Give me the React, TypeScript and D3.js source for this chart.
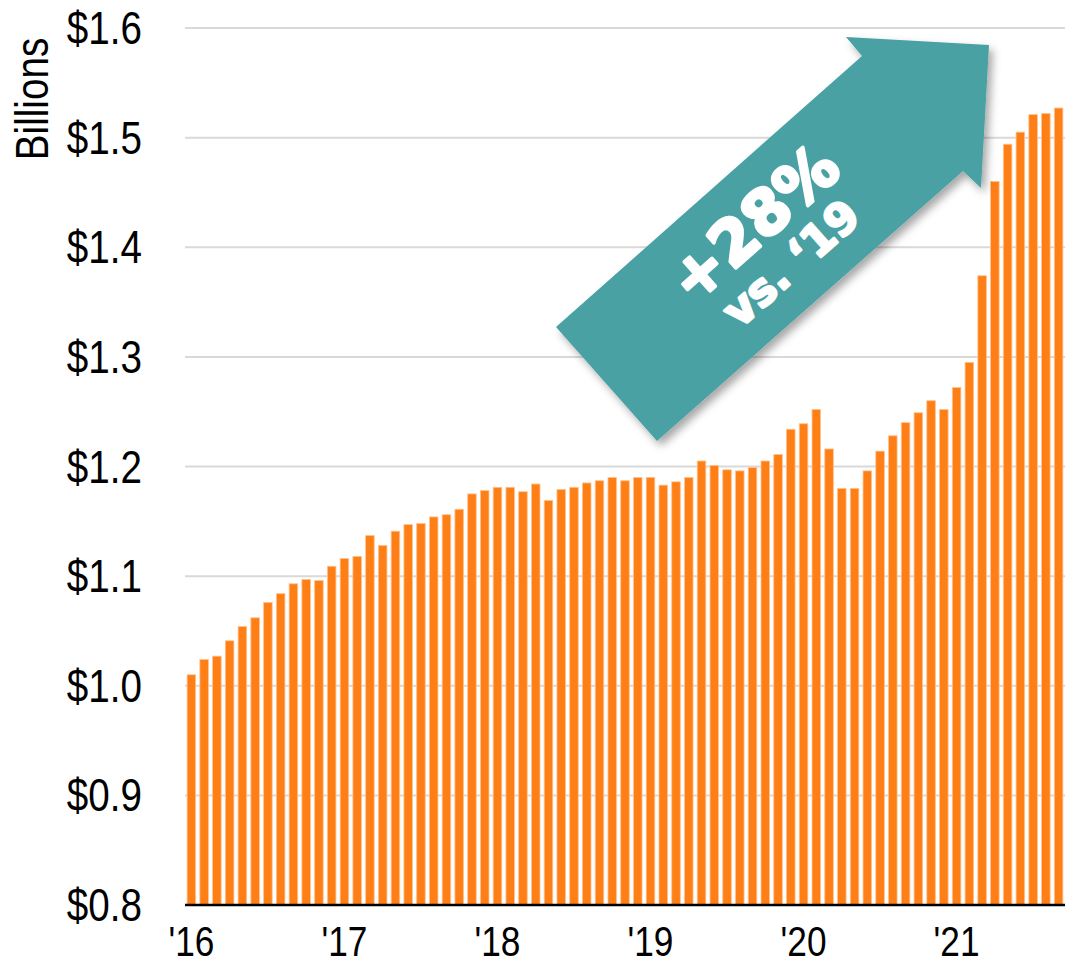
import { useEffect, useRef } from "react"
import * as d3 from 'd3';

// monthly values, $ billions
const years = ["'16", "'17", "'18", "'19", "'20", "'21"]
const values16 = [1.010, 1.024, 1.027, 1.041, 1.054, 1.062, 1.076, 1.084, 1.093, 1.097, 1.096, 1.109]
const values17 = [1.116, 1.118, 1.137, 1.128, 1.141, 1.147, 1.148, 1.154, 1.156, 1.161, 1.175, 1.178]
const values18 = [1.181, 1.181, 1.177, 1.184, 1.169, 1.179, 1.181, 1.185, 1.187, 1.190, 1.187, 1.190]
const values19 = [1.190, 1.183, 1.186, 1.190, 1.205, 1.201, 1.197, 1.196, 1.199, 1.205, 1.211, 1.234]
const values20 = [1.239, 1.252, 1.216, 1.180, 1.180, 1.196, 1.214, 1.228, 1.240, 1.249, 1.260, 1.252]
const values21 = [1.272, 1.295, 1.374, 1.460, 1.494, 1.505, 1.521, 1.522, 1.527]
const yTicks = [0.8, 0.9, 1.0, 1.1, 1.2, 1.3, 1.4, 1.5, 1.6]
const yLabel = 'Billions'
const arrowMain = '+28%'
const arrowSub = 'vs. \u201819'

const FONT = "'Liberation Sans', Arial, sans-serif"
const NARROW = 0.84

const App = () => {
    const ref = useRef<HTMLDivElement>(null)
    useEffect(() => {
        draw()
    }, [])

    const W = 1067, H = 965
    const margin = { top: 28, right: 2, bottom: 60, left: 185 }
    const innerW = W - margin.left - margin.right
    const innerH = H - margin.top - margin.bottom

    const draw = () => {
        const allYears = [values16, values17, values18, values19, values20, values21]
        const data: { key: string, year: number, month: number, value: number }[] = []
        allYears.forEach((arr, yi) => arr.forEach((v, mi) => {
            data.push({ key: years[yi] + '-' + mi, year: yi, month: mi, value: v })
        }))

        d3.select(ref.current).select('svg').remove()
        const svg = d3.select(ref.current)
            .append('svg')
            .attr('width', W)
            .attr('height', H)
            .style('display', 'block')
            .style('background', '#fff')

        const defs = svg.append('defs')
        const filter = defs.append('filter')
            .attr('id', 'arrowShadow')
            .attr('x', '-20%').attr('y', '-20%')
            .attr('width', '140%').attr('height', '140%')
        filter.append('feDropShadow')
            .attr('dx', 4).attr('dy', 5)
            .attr('stdDeviation', 4)
            .attr('flood-color', '#000')
            .attr('flood-opacity', 0.35)

        const g = svg.append('g')
            .attr('transform', 'translate(' + margin.left + ',' + margin.top + ')')

        const x = d3.scaleBand<string>()
            .domain(data.map(d => d.key))
            .range([0, innerW])
            .paddingInner(0.33)
            .paddingOuter(0.165)
        const y = d3.scaleLinear()
            .domain([0.8, 1.6])
            .range([innerH, 0])

        // gridlines
        g.append('g')
            .selectAll('line')
            .data(yTicks.slice(1))
            .enter()
            .append('line')
            .attr('x1', 0)
            .attr('x2', innerW)
            .attr('y1', d => y(d))
            .attr('y2', d => y(d))
            .attr('stroke', '#d9d9d9')
            .attr('stroke-width', 2)

        // y labels
        g.append('g')
            .selectAll('text')
            .data(yTicks)
            .enter()
            .append('text')
            .attr('transform', d => 'translate(-43,' + y(d) + ') scale(' + NARROW + ',1)')
            .attr('dy', '0.35em')
            .attr('text-anchor', 'end')
            .style('font-family', FONT)
            .style('font-size', '46px')
            .attr('fill', '#000')
            .text(d => '$' + d3.format('.1f')(d))

        svg.append('text')
            .attr('transform', 'translate(48,99) rotate(-90) scale(' + NARROW + ',1)')
            .attr('text-anchor', 'middle')
            .style('font-family', FONT)
            .style('font-size', '46px')
            .attr('fill', '#000')
            .text(yLabel)

        // bars
        g.append('g')
            .selectAll('rect')
            .data(data)
            .enter()
            .append('rect')
            .attr('x', d => x(d.key)!)
            .attr('width', x.bandwidth())
            .attr('y', d => y(d.value))
            .attr('height', d => innerH - y(d.value))
            .attr('fill', '#FF7F17')
            .attr('stroke', '#FFC28E')
            .attr('stroke-width', 0.8)

        // x axis line
        g.append('line')
            .attr('x1', 0)
            .attr('x2', innerW)
            .attr('y1', innerH)
            .attr('y2', innerH)
            .attr('stroke', '#000')
            .attr('stroke-width', 2.5)

        // year labels on January bars
        g.append('g')
            .selectAll('text')
            .data(data.filter(d => d.month === 0))
            .enter()
            .append('text')
            .attr('transform', d => 'translate(' + (x(d.key)! + x.bandwidth() / 2) + ',' + (innerH + 51) + ') scale(' + NARROW + ',1)')
            .attr('text-anchor', 'middle')
            .style('font-family', FONT)
            .style('font-size', '42px')
            .attr('fill', '#000')
            .text(d => years[d.year])

        // annotation arrow
        const arrowPts: [number, number][] = [
            [556, 327], [862, 56], [846, 37], [989, 45], [981, 188], [963, 171], [657, 441]
        ]
        svg.append('path')
            .attr('d', d3.line()(arrowPts) + 'Z')
            .attr('fill', '#49A1A3')
            .attr('filter', 'url(#arrowShadow)')

        const angle = -41.5
        svg.append('text')
            .attr('transform', 'translate(754,223) rotate(' + angle + ')')
            .attr('text-anchor', 'middle')
            .attr('dy', '0.35em')
            .style('font-family', "'DejaVu Sans', sans-serif")
            .style('font-weight', 'bold')
            .style('font-size', '62px')
            .attr('fill', '#fff')
            .attr('stroke', '#fff')
            .attr('stroke-width', 3.5)
            .attr('stroke-linejoin', 'round')
            .text(arrowMain)
        svg.append('text')
            .attr('transform', 'translate(791,263) rotate(' + angle + ')')
            .attr('text-anchor', 'middle')
            .attr('dy', '0.35em')
            .style('font-family', "'DejaVu Sans', sans-serif")
            .style('font-weight', 'bold')
            .style('font-size', '44px')
            .attr('fill', '#fff')
            .attr('stroke', '#fff')
            .attr('stroke-width', 2.5)
            .attr('stroke-linejoin', 'round')
            .text(arrowSub)
    }

    return <div ref={ref} style={{ position: 'absolute', left: 0, top: 0, width: W, height: H }} />
}
export default App
